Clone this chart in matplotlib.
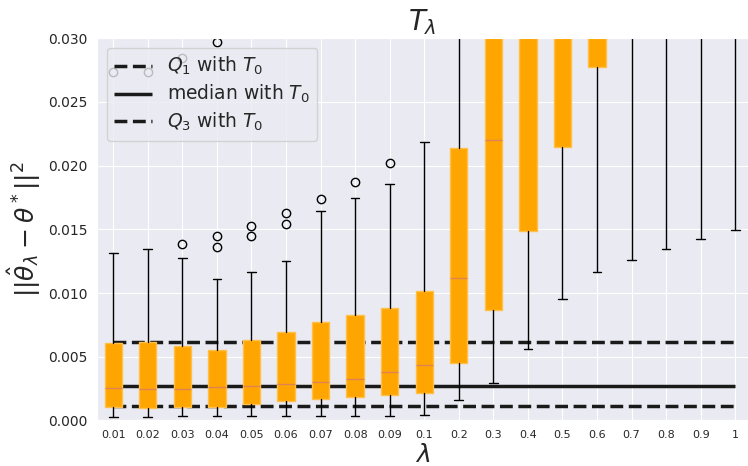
import matplotlib
matplotlib.use("Agg")
import matplotlib.pyplot as plt
import seaborn as sns

sns.set_style("darkgrid")
plt.rcParams['font.family'] = ['DejaVu Sans']

labels = ["0.01", "0.02", "0.03", "0.04", "0.05", "0.06", "0.07", "0.08", "0.09",
          "0.1", "0.2", "0.3", "0.4", "0.5", "0.6", "0.7", "0.8", "0.9", "1"]
q1 = [0.00103, 0.00100, 0.00105, 0.00108, 0.00131, 0.00155, 0.00170, 0.00181, 0.00199,
      0.00217, 0.00450, 0.00867, 0.01487, 0.02149, 0.02777, 0.0330, 0.0360, 0.0390, 0.0420]
med = [0.00252, 0.00244, 0.00244, 0.00260, 0.00270, 0.00283, 0.00299, 0.00327, 0.00380,
       0.00437, 0.01115, 0.02200, 0.0350, 0.0450, 0.0550, 0.0650, 0.0720, 0.0780, 0.0840]
q3 = [0.00610, 0.00618, 0.00587, 0.00555, 0.00631, 0.00691, 0.00772, 0.00827, 0.00882,
      0.01016, 0.02136, 0.0400, 0.0600, 0.0750, 0.0900, 0.1000, 0.1100, 0.1200, 0.1300]
whislo = [0.00027, 0.00029, 0.00035, 0.00032, 0.00032, 0.00032, 0.00032, 0.00035, 0.00037,
          0.00042, 0.00160, 0.00291, 0.00558, 0.00950, 0.01167, 0.01259, 0.01345, 0.01424, 0.01497]
whishi = [0.01314, 0.01345, 0.01275, 0.01110, 0.01167, 0.01251, 0.01644, 0.01748, 0.01858,
          0.02183, 0.0450, 0.0800, 0.1100, 0.1400, 0.1600, 0.1800, 0.1900, 0.2000, 0.2100]
fliers = [[0.02737], [0.02737], [0.01382, 0.02842], [0.01361, 0.01445, 0.02973],
          [0.01450, 0.01526], [0.01544, 0.01626], [0.01740], [0.01874], [0.02020],
          [], [], [], [], [], [], [], [], [], []]

q1_T0 = 0.00115
med_T0 = 0.00272
q3_T0 = 0.00618

fig = plt.figure(figsize=(7.48, 4.66), dpi=100)
ax = fig.add_axes([0.1303, 0.0979, 0.8697, 0.8199])

stats = []
for i in range(len(labels)):
    stats.append(dict(label=labels[i], q1=q1[i], med=med[i], q3=q3[i],
                      whislo=whislo[i], whishi=whishi[i], fliers=fliers[i]))

ax.bxp(stats, patch_artist=True, widths=0.5,
       boxprops=dict(facecolor='#FFA500', edgecolor='#FFC04A', linewidth=1),
       medianprops=dict(color='#dd8452', linewidth=1),
       whiskerprops=dict(color='black', linewidth=1),
       capprops=dict(color='black', linewidth=1),
       flierprops=dict(marker='o', markerfacecolor='none', markeredgecolor='black',
                       markersize=6))

n = len(labels)
ax.hlines(q1_T0, 1, n, colors='#1a1a1a', linestyles='--', linewidth=2.5,
          label=r'$Q_1$ with $T_0$', zorder=1.5)
ax.hlines(med_T0, 1, n, colors='#1a1a1a', linestyles='-', linewidth=2.5,
          label=r'median with $T_0$', zorder=1.5)
ax.hlines(q3_T0, 1, n, colors='#1a1a1a', linestyles='--', linewidth=2.5,
          label=r'$Q_3$ with $T_0$', zorder=1.5)

ax.set_ylim(0, 0.03)
ax.set_xlim(0.543, 19.37)
ax.set_xticks(range(1, n + 1))
ax.set_xticklabels(labels, fontsize=8)
ax.tick_params(axis='y', labelsize=10)
ax.set_yticks([0.0, 0.005, 0.01, 0.015, 0.02, 0.025, 0.03])
ax.set_yticklabels(["0.000", "0.005", "0.010", "0.015", "0.020", "0.025", "0.030"])
ax.set_title(r'$T_\lambda$', fontsize=20)
ax.set_xlabel(r'$\lambda$', fontsize=18, labelpad=2)
ax.set_ylabel(r'$||\hat{\theta}_\lambda - \theta^*||^2$', fontsize=18)
ax.legend(loc='upper left', fontsize=13.5, labelspacing=0.3)

fig.savefig("out.png", dpi=100)
